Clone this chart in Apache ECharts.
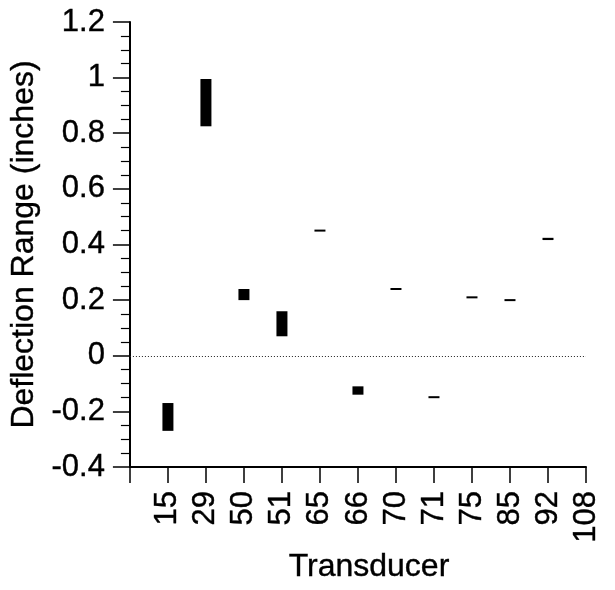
<!DOCTYPE html>
<html><head><meta charset="utf-8">
<script src="https://cdn.jsdelivr.net/npm/echarts@6/dist/echarts.min.js"></script>
<style>html,body{margin:0;padding:0;background:#fff}#c{width:615px;height:590px}</style>
</head><body><div id="c"></div>
<script>
const categories = ['15','29','50','51','65','66','70','71','75','85','92','108'];
const barCats = ['15','29','50','51','65','66','70','71','75','85','92'];
const lows  = [-0.27, 0.825, 0.20, 0.07, 0.448, -0.14, 0.238, -0.151, 0.208, 0.198, 0.416];
const highs = [-0.17, 0.995, 0.24, 0.16, 0.452, -0.11, 0.242, -0.147, 0.212, 0.202, 0.424];
const yTicks = {min: -0.4, max: 1.2, interval: 0.2};

const FONT = 'Liberation Sans, Arial, sans-serif';
const chart = echarts.init(document.getElementById('c'), null, {renderer: 'canvas'});
const data = barCats.map((c, i) => [c, lows[i], highs[i]]);
chart.setOption({
  animation: false,
  grid: {left: 127, right: 29, top: 22, bottom: 123},
  xAxis: {
    type: 'category', boundaryGap: false,
    data: [''].concat(categories),
    name: 'Transducer', nameLocation: 'middle', nameGap: 81,
    nameTextStyle: {fontFamily: FONT, fontSize: 32, color: '#000', padding: [0, 0, 0, 22],
      textBorderColor: '#000', textBorderWidth: 0.4},
    axisLine: {onZero: false, lineStyle: {color: '#000', width: 2}},
    axisTick: {show: true, length: 16, lineStyle: {color: '#000', width: 1.5}},
    axisLabel: {rotate: 90, margin: 24, fontFamily: FONT, fontSize: 31, color: '#000', interval: 0,
      textBorderColor: '#000', textBorderWidth: 0.4},
    splitLine: {show: false}
  },
  yAxis: {
    type: 'value', min: yTicks.min, max: yTicks.max, interval: yTicks.interval,
    name: 'Deflection Range (inches)', nameLocation: 'middle', nameGap: 82,
    nameTextStyle: {fontFamily: FONT, fontSize: 32, color: '#000',
      textBorderColor: '#000', textBorderWidth: 0.4},
    axisLine: {show: true, onZero: false, lineStyle: {color: '#000', width: 2}},
    axisTick: {show: true, length: 17, lineStyle: {color: '#000', width: 1.5}},
    minorTick: {show: true, splitNumber: 4, length: 9, lineStyle: {color: '#000', width: 1.2}},
    axisLabel: {margin: 25, fontFamily: FONT, fontSize: 31, color: '#000',
      textBorderColor: '#000', textBorderWidth: 0.4,
      formatter: v => (Math.abs(v) < 1e-9 ? '0' : String(+v.toFixed(1)))},
    splitLine: {show: false}
  },
  series: [
    {
      type: 'custom',
      data: data,
      encode: {x: 0, y: [1, 2]},
      renderItem: function (params, api) {
        const p1 = api.coord([api.value(0), api.value(1)]);
        const p2 = api.coord([api.value(0), api.value(2)]);
        const w = 11;
        let top = Math.min(p1[1], p2[1]);
        let h = Math.abs(p1[1] - p2[1]);
        if (h < 2) { top = (p1[1] + p2[1]) / 2 - 1; h = 2; }
        return {type: 'rect', shape: {x: p1[0] - w / 2, y: top, width: w, height: h},
          style: {fill: '#000'}};
      },
      z: 3
    },
    {
      type: 'line', data: [], silent: true,
      markLine: {
        silent: true, symbol: 'none', label: {show: false},
        lineStyle: {type: [1, 2], color: '#222', width: 1},
        data: [{yAxis: 0}]
      }
    }
  ]
});
</script></body></html>
